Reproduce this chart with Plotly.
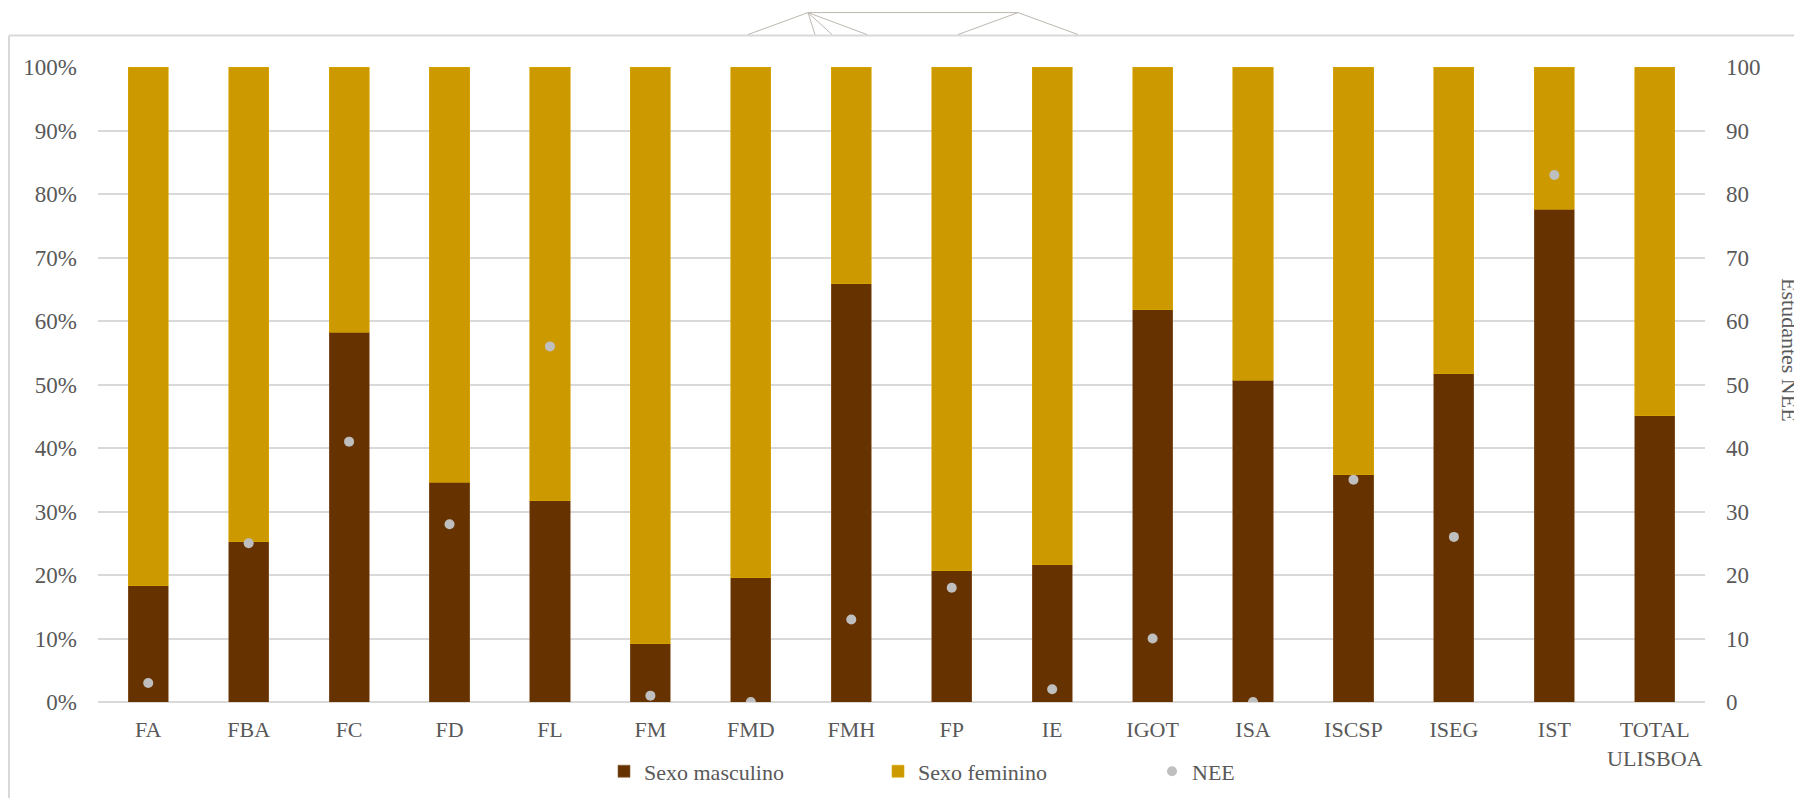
import plotly.graph_objects as go

categories = ["FA", "FBA", "FC", "FD", "FL", "FM", "FMD", "FMH", "FP", "IE",
              "IGOT", "ISA", "ISCSP", "ISEG", "IST", "TOTAL<br>ULISBOA"]
male_pct = [18.3, 25.2, 58.2, 34.6, 31.7, 9.2, 19.6, 65.9, 20.7, 21.6,
            61.8, 50.7, 35.8, 51.7, 77.6, 45.1]
female_pct = [round(100 - v, 1) for v in male_pct]
nee = [3, 25, 41, 28, 56, 1, 0, 13, 18, 2, 10, 0, 35, 26, 83, None]

FONT = "Liberation Serif, Times New Roman, serif"
TXT = "#595959"
GRID = "#D9D9D9"

OFF = 8  # page body margin
W, H = 1794, 790
PLOT_L, PLOT_R, PLOT_T, PLOT_B = 98, 1705, 66.5, 702.5  # page pixels
L = PLOT_L - OFF
T = PLOT_T - OFF
PW = PLOT_R - PLOT_L
PH = PLOT_B - PLOT_T
R = W - L - PW
B = H - T - PH


def px2paper(x, y):
    return (x - PLOT_L) / PW, (PLOT_B - y) / PH


fig = go.Figure()
fig.add_trace(go.Bar(x=categories, y=[v / 100 for v in male_pct], name="Sexo masculino",
                     marker=dict(color="#663300", line=dict(color="#8a5a30", width=0.6))))
fig.add_trace(go.Bar(x=categories, y=[v / 100 for v in female_pct], name="Sexo feminino",
                     marker=dict(color="#CC9900", line=dict(color="#d9a800", width=0.6))))
fig.add_trace(go.Scatter(x=categories, y=nee, name="NEE", mode="markers", yaxis="y2",
                         marker=dict(color="#BFBFBF", size=10)))

shapes = []
# chart border (left and top visible)
x0, y0 = px2paper(9, 35)
shapes.append(dict(type="line", xref="paper", yref="paper", x0=x0, y0=y0, x1=1.2, y1=y0,
                   line=dict(color=GRID, width=2)))
shapes.append(dict(type="line", xref="paper", yref="paper", x0=x0, y0=y0, x1=x0, y1=-0.3,
                   line=dict(color=GRID, width=2)))
# stray lines above the chart
segs = [((808, 12), (748, 34)), ((808, 12), (815, 34)), ((808, 12), (832, 34)),
        ((808, 12), (867, 34)), ((808, 12), (1018, 12)), ((1018, 12), (958, 34)),
        ((1018, 12), (1078, 34))]
for (a, b) in segs:
    ax, ay = px2paper(*a)
    bx, by = px2paper(*b)
    shapes.append(dict(type="line", xref="paper", yref="paper", x0=ax, y0=ay, x1=bx, y1=by,
                       line=dict(color="#BDB8B0", width=1)))

fig.update_layout(
    width=W, height=H,
    margin=dict(l=L, r=R, t=T, b=B, autoexpand=False),
    paper_bgcolor="white", plot_bgcolor="white",
    barmode="stack", bargap=0.6,
    font=dict(family=FONT, size=21, color=TXT),
    xaxis=dict(showgrid=False, showline=False, zeroline=False, ticks="",
               range=[-0.5, len(categories) - 0.5], ticklabelstandoff=12,
               tickfont=dict(family=FONT, size=22, color=TXT)),
    yaxis=dict(range=[0, 1], dtick=0.1, tickformat=".0%", showgrid=True,
               gridcolor=GRID, gridwidth=1.5, zeroline=True, zerolinecolor=GRID,
               zerolinewidth=1.5, showline=False, ticks="", ticklabelstandoff=20,
               tickfont=dict(family=FONT, size=23, color=TXT)),
    yaxis2=dict(range=[0, 100], dtick=10, overlaying="y", side="right", showgrid=False,
                zeroline=False, showline=False, ticks="", ticklabelstandoff=20,
                tickfont=dict(family=FONT, size=23, color=TXT)),
    legend=dict(orientation="h", x=px2paper(604, 0)[0], xanchor="left",
                y=px2paper(0, 772)[1], yanchor="middle",
                font=dict(family=FONT, size=22, color=TXT), traceorder="normal",
                entrywidth=229, itemwidth=30),
    showlegend=True,
    shapes=shapes,
    annotations=[dict(text="Estudantes NEE", xref="paper", yref="paper",
                      x=px2paper(1790, 0)[0], y=px2paper(0, 350)[1], textangle=90,
                      showarrow=False, xanchor="center", yanchor="middle",
                      font=dict(family=FONT, size=22, color=TXT))],
)

fig.write_html("out.html")
